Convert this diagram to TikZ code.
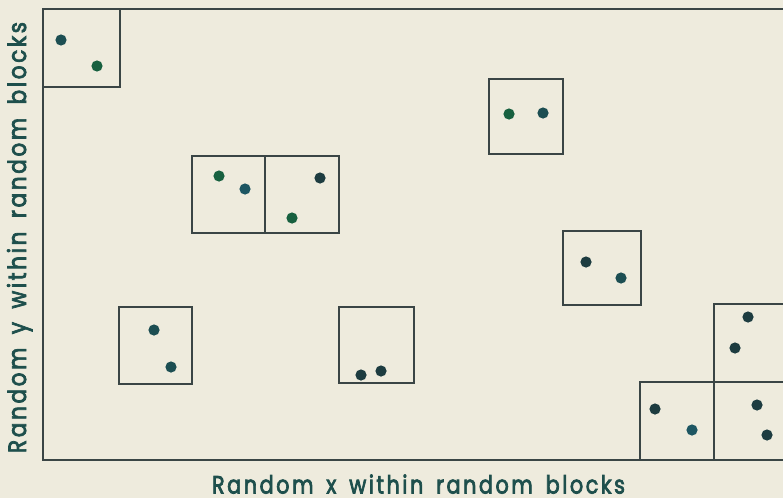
\documentclass[tikz,border=0pt]{standalone}
\usepackage{fontspec}
\setmainfont{Poppins}
\newfontfamily\labfont{Poppins}[LetterSpace=12, FakeBold=3.2, WordSpace=1.6]
\definecolor{bg}{HTML}{EEEBDD}
\definecolor{ln}{HTML}{3A4545}
\definecolor{txt}{HTML}{1E4F4C}
\definecolor{dteal}{HTML}{1C4E52}
\definecolor{dgreen}{HTML}{17603F}
\definecolor{ddark}{HTML}{1D3C40}
\definecolor{dblue}{HTML}{1D5662}
\tikzset{
  blk/.style={draw=ln, line width=1.8pt},
  frm/.style={draw=ln, line width=1.8pt},
  lbl/.style={text=txt, inner sep=0pt, font=\labfont},
}
\newcommand{\dotat}[3]{\fill[#1] (#2,#3) circle (5.6);}
\begin{document}
\begin{tikzpicture}[x=1pt,y=-1pt]
\fill[bg] (0,0) rectangle (783,498);
\useasboundingbox (0,0) rectangle (783,498);
% frame
\draw[frm] (790,9) -- (43,9) -- (43,460) -- (790,460);
% blocks
\draw[blk] (43,9) rectangle (120,87);
\draw[blk] (192,156) rectangle (265,233);
\draw[blk] (265,156) rectangle (339,233);
\draw[blk] (489,79) rectangle (563,154);
\draw[blk] (563,231) rectangle (641,305);
\draw[blk] (119,307) rectangle (192,384);
\draw[blk] (339,307) rectangle (414,383);
\draw[blk] (640,382) rectangle (714,460);
\draw[blk] (714,382) rectangle (792,460);
\draw[blk] (714,304) rectangle (792,382);
% dots
\dotat{dteal}{61}{40}
\dotat{dgreen}{97}{66}
\dotat{dgreen}{219}{176}
\dotat{dblue}{245}{189}
\dotat{ddark}{320}{178}
\dotat{dgreen}{292}{218}
\dotat{dgreen}{509}{114}
\dotat{dteal}{543}{113}
\dotat{ddark}{586}{262}
\dotat{dteal}{621}{278}
\dotat{dteal}{154}{330}
\dotat{dteal}{171}{367}
\dotat{ddark}{361}{375}
\dotat{ddark}{381}{371}
\dotat{ddark}{655}{409}
\dotat{dblue}{692}{430}
\dotat{ddark}{748}{317}
\dotat{ddark}{735}{348}
\dotat{ddark}{757}{405}
\dotat{ddark}{767}{435}
% labels
\node[lbl, anchor=base] (xlab) at (418.5,493.5) {\resizebox{413pt}{19pt}{Random x within random blocks}};
\node[lbl, anchor=base, rotate=90] (ylab) at (26,237.5) {\resizebox{431pt}{19pt}{Random y within random blocks}};
\end{tikzpicture}
\end{document}
